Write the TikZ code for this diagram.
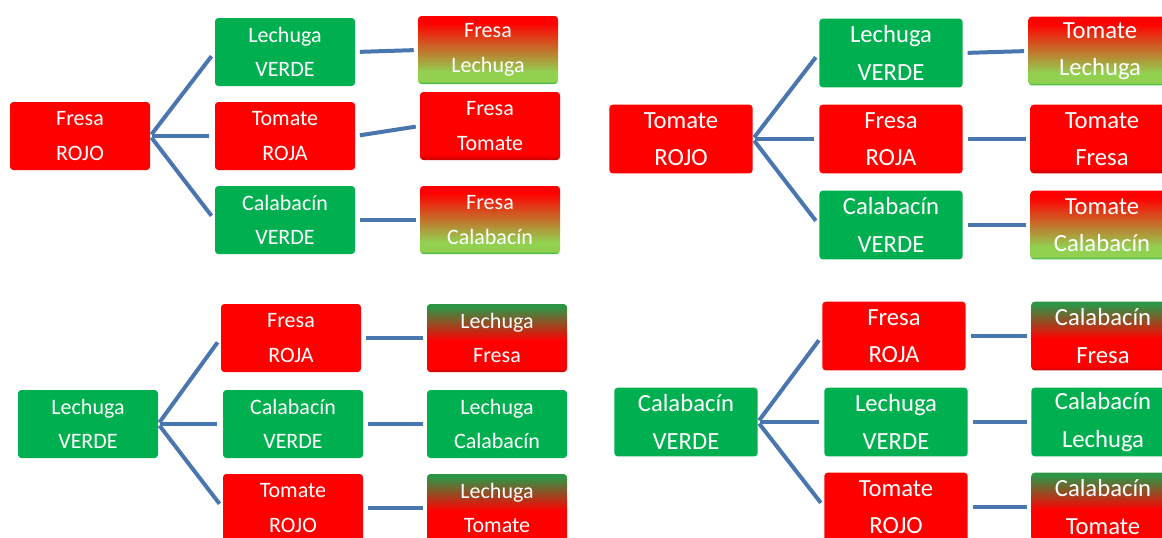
\documentclass[tikz,border=0pt]{standalone}
\usepackage{fontspec}
\setmainfont{Carlito}
\usetikzlibrary{positioning}

\definecolor{boxred}{RGB}{255,0,0}
\definecolor{boxgreen}{RGB}{0,176,80}
\definecolor{lightgreen}{RGB}{146,208,80}
\definecolor{edgegreen}{RGB}{40,180,70}
\definecolor{darkred}{RGB}{200,0,0}
\definecolor{topgreen}{RGB}{45,150,70}
\definecolor{linkblue}{RGB}{74,118,176}

% vertical shadings (node spans 25bp..75bp)
\pgfdeclareverticalshading{redgreen}{100bp}{color(0bp)=(edgegreen); color(25bp)=(edgegreen);
  color(27bp)=(lightgreen); color(34bp)=(lightgreen); color(70bp)=(boxred); color(100bp)=(boxred)}
\pgfdeclareverticalshading{greenred}{100bp}{color(0bp)=(darkred); color(25bp)=(darkred);
  color(28bp)=(boxred); color(48bp)=(boxred); color(73bp)=(topgreen); color(100bp)=(topgreen)}
\pgfdeclareverticalshading{reddark}{100bp}{color(0bp)=(darkred); color(25bp)=(darkred);
  color(29bp)=(boxred); color(100bp)=(boxred)}

\begin{document}
\begin{tikzpicture}[x=0.75pt, y=-0.75pt,
  cell/.style={rounded corners=2.5pt, text=white, align=center, inner sep=0pt,
    minimum width=105pt, minimum height=51pt, font=\fontsize{16.5}{26}\selectfont},
  bigcell/.style={cell, minimum width=107.5pt, minimum height=51.5pt, font=\fontsize{18.5}{28}\selectfont},
  redcell/.style={fill=boxred},
  greencell/.style={fill=boxgreen},
  link/.style={draw=linkblue, line width=3pt, shorten <=1.5pt, shorten >=4pt},
  pairlink/.style={link, shorten <=3.5pt, shorten >=3pt}
]
\useasboundingbox (0,0) rectangle (1162,537);

% Fresa
\node[cell, redcell] (fresa) at (80,136) {Fresa\\ROJO};
\node[cell, greencell] (fresa-lechuga) at (285,52) {Lechuga\\VERDE};
\node[cell, redcell] (fresa-tomate) at (285,136) {Tomate\\ROJA};
\node[cell, greencell] (fresa-calabacin) at (285,220) {Calabacín\\VERDE};
\node[cell, shading=redgreen] (fresa-lechuga-par) at (488,50) {Fresa\\Lechuga};
\node[cell, shading=reddark] (fresa-tomate-par) at (490,126) {Fresa\\Tomate};
\node[cell, shading=redgreen] (fresa-calabacin-par) at (490,220) {Fresa\\Calabacín};
\draw[link] (fresa.east) -- (fresa-lechuga.west);
\draw[link] (fresa.east) -- (fresa-tomate.west);
\draw[link] (fresa.east) -- (fresa-calabacin.west);
\draw[pairlink] (fresa-lechuga.east) -- (fresa-lechuga-par.west);
\draw[pairlink] (fresa-tomate.east) -- (fresa-tomate-par.west);
\draw[pairlink] (fresa-calabacin.east) -- (fresa-calabacin-par.west);

% Tomate
\node[bigcell, redcell] (tomate) at (681,139) {Tomate\\ROJO};
\node[bigcell, greencell] (tomate-lechuga) at (891,53) {Lechuga\\VERDE};
\node[bigcell, redcell] (tomate-fresa) at (891,139) {Fresa\\ROJA};
\node[bigcell, greencell] (tomate-calabacin) at (891,225) {Calabacín\\VERDE};
\node[bigcell, shading=redgreen] (tomate-lechuga-par) at (1100,51) {Tomate\\Lechuga};
\node[bigcell, shading=reddark] (tomate-fresa-par) at (1102,139) {Tomate\\Fresa};
\node[bigcell, shading=redgreen] (tomate-calabacin-par) at (1102,225) {Tomate\\Calabacín};
\draw[link] (tomate.east) -- (tomate-lechuga.west);
\draw[link] (tomate.east) -- (tomate-fresa.west);
\draw[link] (tomate.east) -- (tomate-calabacin.west);
\draw[pairlink] (tomate-lechuga.east) -- (tomate-lechuga-par.west);
\draw[pairlink] (tomate-fresa.east) -- (tomate-fresa-par.west);
\draw[pairlink] (tomate-calabacin.east) -- (tomate-calabacin-par.west);

% Lechuga
\node[cell, greencell] (lechuga) at (88,424) {Lechuga\\VERDE};
\node[cell, redcell] (lechuga-fresa) at (291,338) {Fresa\\ROJA};
\node[cell, greencell] (lechuga-calabacin) at (293,424) {Calabacín\\VERDE};
\node[cell, redcell] (lechuga-tomate) at (293,508) {Tomate\\ROJO};
\node[cell, shading=greenred] (lechuga-fresa-par) at (497,338) {Lechuga\\Fresa};
\node[cell, greencell] (lechuga-calabacin-par) at (497,424) {Lechuga\\Calabacín};
\node[cell, shading=greenred] (lechuga-tomate-par) at (497,508) {Lechuga\\Tomate};
\draw[link] (lechuga.east) -- (lechuga-fresa.west);
\draw[link] (lechuga.east) -- (lechuga-calabacin.west);
\draw[link] (lechuga.east) -- (lechuga-tomate.west);
\draw[pairlink] (lechuga-fresa.east) -- (lechuga-fresa-par.west);
\draw[pairlink] (lechuga-calabacin.east) -- (lechuga-calabacin-par.west);
\draw[pairlink] (lechuga-tomate.east) -- (lechuga-tomate-par.west);

% Calabacin
\node[bigcell, greencell] (calabacin) at (686,422) {Calabacín\\VERDE};
\node[bigcell, redcell] (calabacin-fresa) at (894,336) {Fresa\\ROJA};
\node[bigcell, greencell] (calabacin-lechuga) at (896,422) {Lechuga\\VERDE};
\node[bigcell, redcell] (calabacin-tomate) at (896,507) {Tomate\\ROJO};
\node[bigcell, shading=greenred] (calabacin-fresa-par) at (1103,336) {Calabacín\\Fresa};
\node[bigcell, greencell] (calabacin-lechuga-par) at (1103,422) {Calabacín\\Lechuga};
\node[bigcell, shading=greenred] (calabacin-tomate-par) at (1103,507) {Calabacín\\Tomate};
\draw[link] (calabacin.east) -- (calabacin-fresa.west);
\draw[link] (calabacin.east) -- (calabacin-lechuga.west);
\draw[link] (calabacin.east) -- (calabacin-tomate.west);
\draw[pairlink] (calabacin-fresa.east) -- (calabacin-fresa-par.west);
\draw[pairlink] (calabacin-lechuga.east) -- (calabacin-lechuga-par.west);
\draw[pairlink] (calabacin-tomate.east) -- (calabacin-tomate-par.west);
\end{tikzpicture}
\end{document}
